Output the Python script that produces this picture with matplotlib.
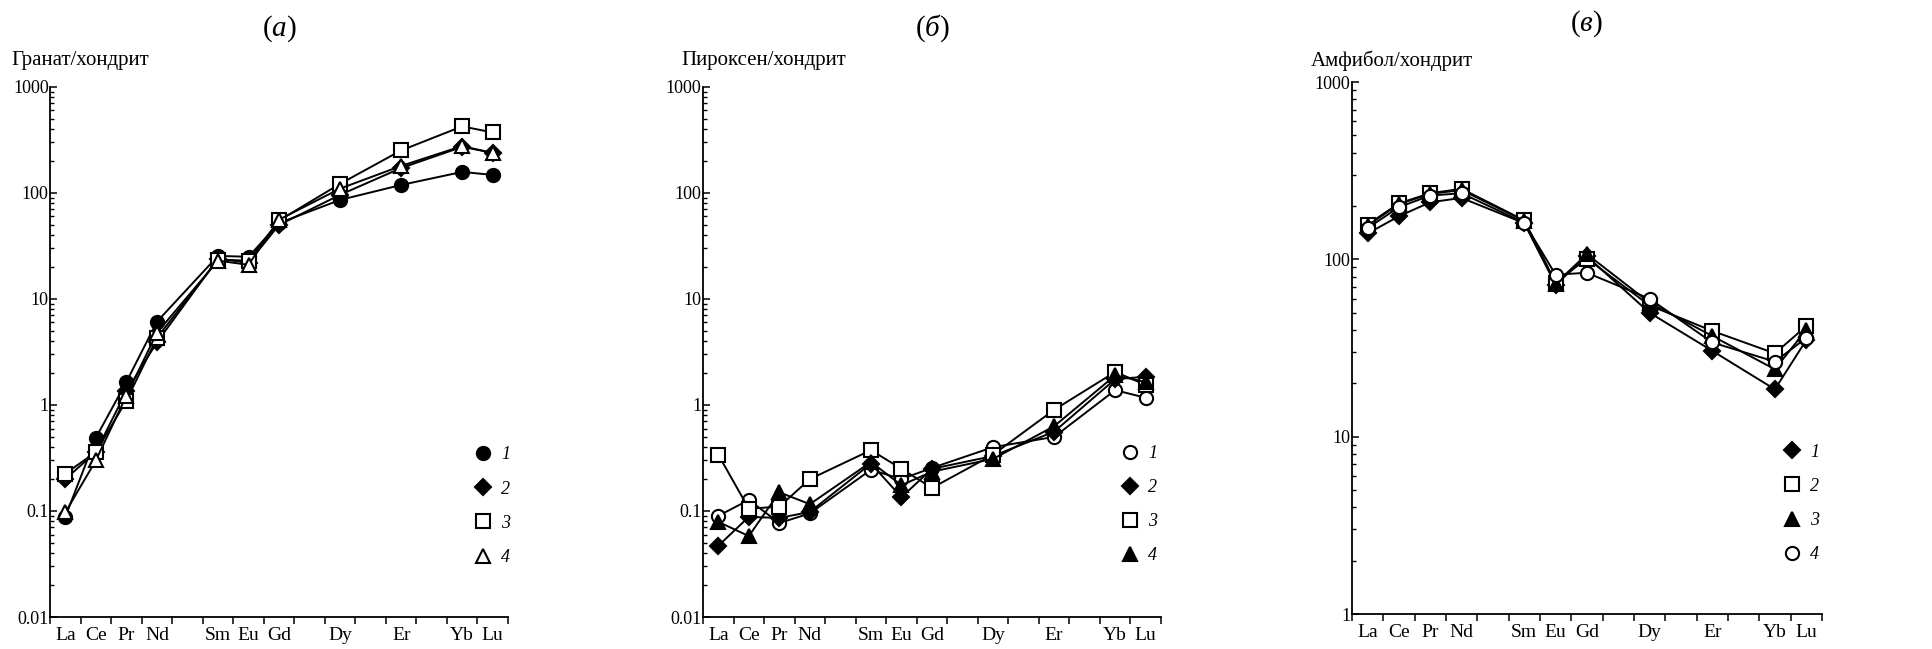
#!/usr/bin/env python3
"""
Chondrite-normalised REE patterns: garnet, pyroxene, amphibole (three panels).
Output: out.png
"""
import matplotlib
matplotlib.use("Agg")
import matplotlib.pyplot as plt
from matplotlib.lines import Line2D
from matplotlib.ticker import FixedLocator, FuncFormatter, LogLocator, NullFormatter
import numpy as np

plt.rcParams["font.family"] = ["Liberation Serif", "DejaVu Serif"]
plt.rcParams["mathtext.fontset"] = "custom"
plt.rcParams["mathtext.rm"] = "Liberation Serif"
plt.rcParams["mathtext.it"] = "Liberation Serif:italic"

# full REE row (15 slots); only the labelled ones carry data
ree_all = ["La", "Ce", "Pr", "Nd", "Pm", "Sm", "Eu", "Gd", "Tb", "Dy", "Ho", "Er", "Tm", "Yb", "Lu"]
ree = ["La", "Ce", "Pr", "Nd", "Sm", "Eu", "Gd", "Dy", "Er", "Yb", "Lu"]

# (а) garnet / chondrite
grt_1 = [0.088, 0.49, 1.65, 6.1, 25.5, 25, 52, 86, 119, 158, 148]
grt_2 = [0.20, 0.36, 1.35, 3.9, 24, 22, 50, 96, 172, 272, 240]
grt_3 = [0.225, 0.36, 1.1, 4.3, 23.5, 23, 55, 122, 252, 425, 372]
grt_4 = [0.097, 0.30, 1.22, 4.8, 23, 21, 56, 110, 180, 277, 238]

# (б) pyroxene / chondrite
px_1 = [0.09, 0.127, 0.077, 0.095, 0.245, 0.20, 0.255, 0.40, 0.50, 1.38, 1.17]
px_2 = [0.047, 0.088, 0.086, 0.098, 0.28, 0.135, 0.25, 0.33, 0.56, 1.75, 1.85]
px_3 = [0.34, 0.105, 0.11, 0.20, 0.375, 0.25, 0.165, 0.34, 0.90, 2.05, 1.55]
px_4 = [0.079, 0.058, 0.15, 0.116, 0.29, 0.175, 0.235, 0.31, 0.63, 1.9, 1.65]

# (в) amphibole / chondrite
amp_1 = [140, 175, 210, 222, 160, 72, 104, 50, 30.5, 18.5, 35]
amp_2 = [157, 207, 236, 250, 166, 74, 101, 55, 39.5, 29.5, 42]
amp_3 = [155, 205, 234, 246, 165, 73, 107, 57, 37, 24, 40]
amp_4 = [150, 197, 229, 236, 161, 82, 84, 60, 34, 26.5, 36]

MARKERS = {
    "circle_f": dict(marker="o", mfc="black"),
    "circle_o": dict(marker="o", mfc="white"),
    "diamond": dict(marker="D", mfc="black"),
    "square": dict(marker="s", mfc="white"),
    "tri_o": dict(marker="^", mfc="white"),
    "tri_f": dict(marker="^", mfc="black"),
}
MSIZE = {"o": 9.5, "D": 8, "s": 9.5, "^": 10}

PANELS = [
    dict(letter="а", ylabel="Гранат/хондрит", ylim=(0.01, 1000),
         series=[grt_1, grt_2, grt_3, grt_4],
         styles=["circle_f", "diamond", "square", "tri_o"],
         rect=[0.0259, 0.0493, 0.2369, 0.8167],
         ylab_xy=(-0.085, 1.05), leg_xy=(0.926, 0.209)),
    dict(letter="б", ylabel="Пироксен/хондрит", ylim=(0.01, 1000),
         series=[px_1, px_2, px_3, px_4],
         styles=["circle_o", "diamond", "square", "tri_f"],
         rect=[0.3637, 0.0493, 0.2369, 0.8167],
         ylab_xy=(-0.048, 1.05), leg_xy=(0.913, 0.212)),
    dict(letter="в", ylabel="Амфибол/хондрит", ylim=(1, 1000),
         series=[amp_1, amp_2, amp_3, amp_4],
         styles=["diamond", "square", "tri_f", "circle_o"],
         rect=[0.6994, 0.0539, 0.2431, 0.8197],
         ylab_xy=(-0.088, 1.04), leg_xy=(0.917, 0.208)),
]


def style_kw(name):
    kw = dict(MARKERS[name])
    kw["ms"] = MSIZE[kw["marker"]]
    kw["mec"] = "black"
    kw["mew"] = 1.5
    return kw


def main():
    fig = plt.figure(figsize=(19.33, 6.49), dpi=100)
    x = np.array([ree_all.index(e) + 0.5 for e in ree])

    for p in PANELS:
        ax = fig.add_axes(p["rect"])
        for vals, st in zip(p["series"], p["styles"]):
            ax.plot(x, vals, color="black", lw=1.4, **style_kw(st))

        ax.set_yscale("log")
        ax.set_ylim(*p["ylim"])
        ax.set_xlim(0, len(ree_all))
        for side in ("top", "right"):
            ax.spines[side].set_visible(False)
        for side in ("left", "bottom"):
            ax.spines[side].set_linewidth(1.3)

        ax.yaxis.set_major_locator(LogLocator(base=10))
        ax.yaxis.set_minor_locator(LogLocator(base=10, subs=np.arange(2, 10)))
        ax.yaxis.set_major_formatter(FuncFormatter(lambda v, _: f"{v:g}"))
        ax.yaxis.set_minor_formatter(NullFormatter())
        ax.tick_params(axis="y", which="major", direction="in", length=5, width=1.1,
                       pad=1, labelsize=13)
        ax.tick_params(axis="y", which="minor", direction="in", length=3, width=1.0)

        ax.xaxis.set_major_locator(FixedLocator(np.arange(0, len(ree_all) + 1)))
        ax.xaxis.set_major_formatter(NullFormatter())
        ax.xaxis.set_minor_locator(FixedLocator(x))
        ax.set_xticklabels(ree, minor=True)
        ax.tick_params(axis="x", which="major", direction="out", length=5, width=1.1)
        ax.tick_params(axis="x", which="minor", length=0, pad=7, labelsize=14)

        ax.text(0.5, 1.11, rf"$(\mathit{{{p['letter']}}})$", transform=ax.transAxes,
                ha="center", va="center", fontsize=21)
        ax.text(p["ylab_xy"][0], p["ylab_xy"][1], p["ylabel"], transform=ax.transAxes,
                ha="left", va="center", fontsize=15)

        handles = [Line2D([], [], ls="none", **style_kw(st)) for st in p["styles"]]
        ax.legend(handles, ["1", "2", "3", "4"], loc="center left",
                  bbox_to_anchor=p["leg_xy"], frameon=False, borderpad=0,
                  borderaxespad=0, handlelength=1.0, handletextpad=0.5,
                  labelspacing=0.95, prop=dict(family="Liberation Serif",
                                               style="italic", size=13))

    fig.savefig("out.png", dpi=100)
    plt.close(fig)


if __name__ == "__main__":
    main()
